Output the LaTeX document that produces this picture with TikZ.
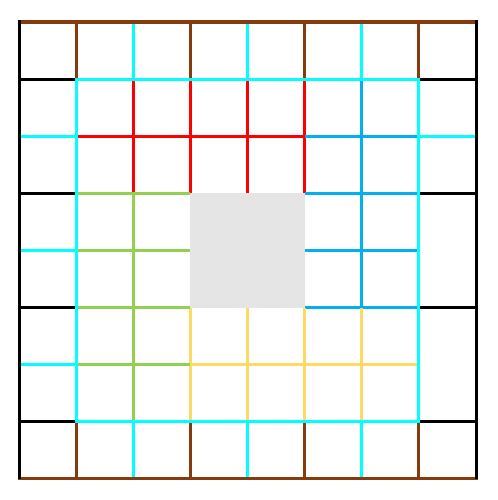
\documentclass[tikz,border=0pt]{standalone}
\usepackage{tikz}
\usepackage{xcolor}

\definecolor{ringbrown}{RGB}{133,60,12}
\definecolor{ringcyan}{RGB}{0,255,255}
\definecolor{tileblue}{RGB}{0,176,240}
\definecolor{tilegreen}{RGB}{146,208,80}
\definecolor{tileyellow}{RGB}{255,217,102}

\begin{document}
\begin{tikzpicture}[line width=1.5pt]
  \useasboundingbox (-0.333,-0.368) rectangle (8.385,8.385);

  % Outer ring: short lines between the edge cells
  \draw[ringcyan] (2,0) -- (2,1) (4,0) -- (4,1) (6,0) -- (6,1);
  \draw[ringcyan] (2,7) -- (2,8) (4,7) -- (4,8) (6,7) -- (6,8);
  \draw[ringcyan] (0,2) -- (1,2) (0,4) -- (1,4) (0,6) -- (1,6) (7,6) -- (8,6);
  \draw[black] (0,1) -- (1,1) (0,3) -- (1,3) (0,5) -- (1,5) (0,7) -- (1,7);
  \draw[black] (7,1) -- (8,1) (7,3) -- (8,3) (7,5) -- (8,5) (7,7) -- (8,7);
  \draw[ringbrown] (1,0) -- (1,1) (3,0) -- (3,1) (5,0) -- (5,1) (7,0) -- (7,1);
  \draw[ringbrown] (1,7) -- (1,8) (3,7) -- (3,8) (5,7) -- (5,8) (7,7) -- (7,8);

  % Red block (top)
  \draw[red] (1,6) -- (5,6);
  \draw[red] (2,5) -- (2,7) (3,5) -- (3,7) (4,5) -- (4,7) (5,5) -- (5,7);

  % Blue block (right)
  \draw[tileblue] (5,3) -- (7,3) (5,4) -- (7,4) (5,5) -- (7,5) (5,6) -- (7,6);
  \draw[tileblue] (6,3) -- (6,7);

  % Yellow block (bottom)
  \draw[tileyellow] (3,2) -- (7,2);
  \draw[tileyellow] (3,1) -- (3,3) (4,1) -- (4,3) (5,1) -- (5,3) (6,1) -- (6,3);

  % Green block (left)
  \draw[tilegreen] (1,2) -- (3,2) (1,3) -- (3,3) (1,4) -- (3,4) (1,5) -- (3,5);
  \draw[tilegreen] (2,1) -- (2,5);

  % Inner ring border
  \draw[ringcyan] (1,1) rectangle (7,7);

  % Missing square in the middle
  \fill[gray!20] (3,3) rectangle (5,5);

  % Board border
  \draw[ringbrown, line cap=rect] (0,8) -- (8,8) (0,0) -- (8,0);
  \draw[black] (0,0) -- (0,8.03) (8,0) -- (8,8.03);
\end{tikzpicture}
\end{document}
